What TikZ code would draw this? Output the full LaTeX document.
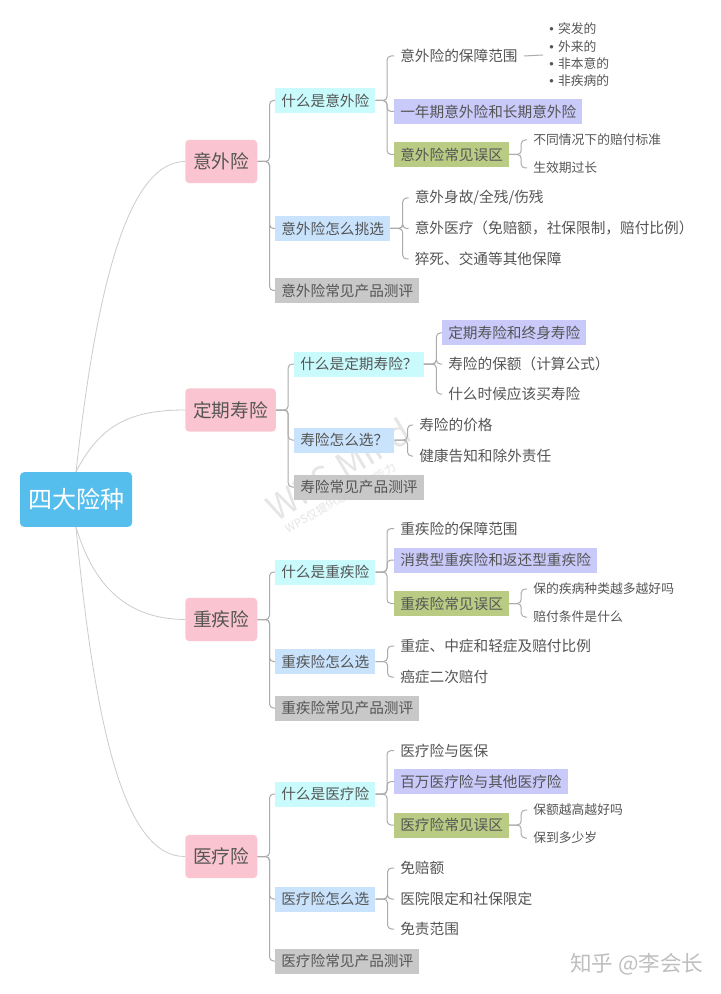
\documentclass[tikz,border=0pt]{standalone}
\usepackage{fontspec}
\setmainfont{Noto Sans CJK SC}
\newfontfamily\bulfont{Liberation Sans}
\definecolor{txt}{HTML}{555555}
\definecolor{lnk}{HTML}{ABABAB}
\definecolor{crv}{HTML}{CCCCCC}
\newcommand{\sz}[1]{\fontsize{#1}{#1}\selectfont}
\newcommand{\bl}{{\bulfont •}\hspace{3.2pt}}
\tikzset{
  x=0.75pt,y=-0.75pt,
  base/.style={anchor=west,inner xsep=4.5pt,inner ysep=0pt,minimum height=18.75pt,text=txt,font=\sz{11}},
  leaf/.style={base},
  small/.style={base,font=\sz{9.6}},
  cy/.style={base,fill=cyanb},
  bl2/.style={base,fill=blueb},
  gr/.style={base,fill=greyb},
  pu/.style={base,fill=purpb},
  gn/.style={base,fill=greenb},
  topic/.style={anchor=west,fill=pinkb,rounded corners=3pt,inner xsep=6pt,inner ysep=0pt,minimum height=32.5pt,text=txt,font=\sz{14}},
  conn/.style={draw=lnk,line width=0.75pt,rounded corners=3pt},
  curve/.style={draw=crv,line width=0.6pt},
}
\definecolor{cyanb}{HTML}{C9FBFD}
\definecolor{blueb}{HTML}{C9E3FD}
\definecolor{greyb}{HTML}{C8C8C8}
\definecolor{purpb}{HTML}{C9C9FA}
\definecolor{greenb}{HTML}{BACC84}
\definecolor{pinkb}{HTML}{FAC5D0}
\definecolor{rootb}{HTML}{56BEEC}
\newcommand{\fork}[3]{\foreach \c in {#3}{\draw[conn] (#1.east) -- ++(#2,0) |- (\c.west);}}
\begin{document}
\begin{tikzpicture}
\useasboundingbox (0,0) rectangle (720,994);
\fill[white] (0,0) rectangle (720,994);
% watermark
\node[rotate=31,text=black!10,font=\sz{26}] (wm1) at (338,469) {WPS Mind};
\node[rotate=30,text=black!10,font=\sz{8.5}] (wm2) at (341,498) {WPS仅提供思维导图能力};
\node[text=black!25,font=\sz{16.2},anchor=east] (zh) at (708,964) {知乎 @李会长};
% root
\node[fill=rootb,rounded corners=3pt,text=white,font=\sz{18},minimum width=84pt,minimum height=41pt,inner sep=0pt] (root) at (76,499.5) {四大险种};
% 意外险
\node[topic] (a) at (185,161.5) {意外险};
\node[cy] (a1) at (275,100.5) {什么是意外险};
\node[bl2] (a2) at (275,228.5) {意外险怎么挑选};
\node[gr] (a3) at (275,290.5) {意外险常见产品测评};
\node[leaf] (a11) at (394,56) {意外险的保障范围};
\node[pu] (a12) at (394,111.5) {一年期意外险和长期意外险};
\node[gn] (a13) at (394,154.5) {意外险常见误区};
\node[small,align=left,font=\fontsize{9.6}{13}\selectfont] (a111) at (543,55) {\bl 突发的\\\bl 外来的\\\bl 非本意的\\\bl 非疾病的};
\node[small] (a131) at (527,140) {不同情况下的赔付标准};
\node[small] (a132) at (527,168) {生效期过长};
\node[leaf] (a21) at (408.5,198) {意外身故/全残/伤残};
\node[leaf] (a22) at (408.5,228.5) {意外医疗（免赔额，社保限制，赔付比例）};
\node[leaf] (a23) at (408.5,259) {猝死、交通等其他保障};
% 定期寿险
\node[topic] (b) at (185,410) {定期寿险};
\node[cy] (b1) at (294,364) {什么是定期寿险？};
\node[bl2] (b2) at (294,440) {寿险怎么选？};
\node[gr] (b3) at (294,487) {寿险常见产品测评};
\node[pu] (b11) at (442,333) {定期寿险和终身寿险};
\node[leaf] (b12) at (442,364) {寿险的保额（计算公式）};
\node[leaf] (b13) at (442,394) {什么时候应该买寿险};
\node[leaf] (b21) at (413,425) {寿险的价格};
\node[leaf] (b22) at (413,456) {健康告知和除外责任};
% 重疾险
\node[topic] (c) at (185,619.5) {重疾险};
\node[cy] (c1) at (275,572) {什么是重疾险};
\node[bl2] (c2) at (275,661.5) {重疾险怎么选};
\node[gr] (c3) at (275,708) {重疾险常见产品测评};
\node[leaf] (c11) at (394,528.5) {重疾险的保障范围};
\node[pu] (c12) at (394,560) {消费型重疾险和返还型重疾险};
\node[gn] (c13) at (394,603.5) {重疾险常见误区};
\node[small] (c131) at (527,589) {保的疾病种类越多越好吗};
\node[small] (c132) at (527,617) {赔付条件是什么};
\node[leaf] (c21) at (394,646) {重症、中症和轻症及赔付比例};
\node[leaf] (c22) at (394,677) {癌症二次赔付};
% 医疗险
\node[topic] (d) at (185,856.5) {医疗险};
\node[cy] (d1) at (275,794) {什么是医疗险};
\node[bl2] (d2) at (275,899) {医疗险怎么选};
\node[gr] (d3) at (275,961) {医疗险常见产品测评};
\node[leaf] (d11) at (394,750.5) {医疗险与医保};
\node[pu] (d12) at (394,781.5) {百万医疗险与其他医疗险};
\node[gn] (d13) at (394,825) {医疗险常见误区};
\node[small] (d131) at (527,810) {保额越高越好吗};
\node[small] (d132) at (527,838) {保到多少岁};
\node[leaf] (d21) at (394,868) {免赔额};
\node[leaf] (d22) at (394,899) {医院限定和社保限定};
\node[leaf] (d23) at (394,929) {免责范围};
% curves
\draw[curve] (root.north) .. controls (95,300) and (125,162) .. (a.west);
\draw[curve] (root.north) .. controls (100,425) and (130,410) .. (b.west);
\draw[curve] (root.south) .. controls (95,590) and (130,619) .. (c.west);
\draw[curve] (root.south) .. controls (95,730) and (125,857) .. (d.west);
% forks
\fork{a}{12}{a1,a2,a3}
\fork{a1}{11.5}{a11,a12,a13}
\fork{a13}{12}{a131,a132}
\fork{a2}{12.5}{a21,a22,a23}
\draw[conn] (a11.east) -- (a111.west);
\fork{b}{12}{b1,b2,b3}
\fork{b1}{12.5}{b11,b12,b13}
\fork{b2}{13}{b21,b22}
\fork{c}{12}{c1,c2,c3}
\fork{c1}{11.5}{c11,c12,c13}
\fork{c13}{12}{c131,c132}
\fork{c2}{12}{c21,c22}
\fork{d}{12}{d1,d2,d3}
\fork{d1}{11.5}{d11,d12,d13}
\fork{d13}{12}{d131,d132}
\fork{d2}{12}{d21,d22,d23}
\end{tikzpicture}
\end{document}
